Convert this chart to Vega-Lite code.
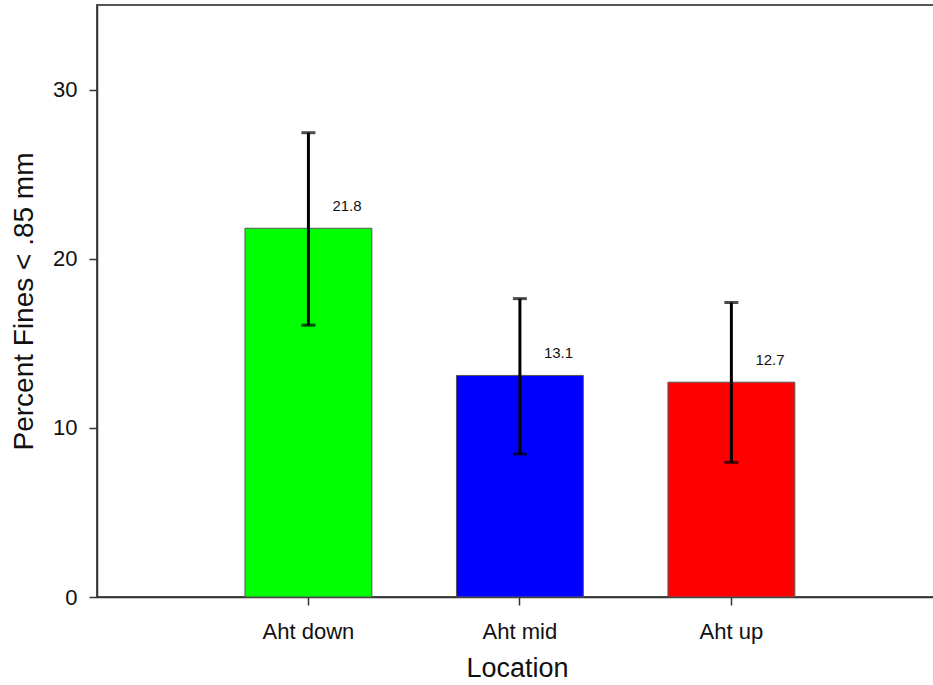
{
  "$schema": "https://vega.github.io/schema/vega-lite/v6.json",
  "width": 840,
  "height": 592,
  "autosize": {"type": "none"},
  "padding": {"left": 97, "top": 5, "right": 0, "bottom": 88},
  "background": "white",
  "config": {
    "font": "Liberation Sans",
    "view": {"stroke": "#555555", "strokeWidth": 2},
    "axis": {
      "domainColor": "#333333",
      "domainWidth": 1.5,
      "tickColor": "#333333",
      "tickWidth": 1.5,
      "tickSize": 8,
      "grid": false,
      "labelFont": "Liberation Sans",
      "labelFontSize": 22,
      "labelColor": "#111111",
      "titleFont": "Liberation Sans",
      "titleFontWeight": "normal",
      "titleColor": "#111111",
      "titleFontSize": 27
    }
  },
  "data": {
    "values": [
      {"location": "Aht down", "fines": 21.8, "low": 16.07, "high": 27.45},
      {"location": "Aht mid", "fines": 13.1, "low": 8.45, "high": 17.64},
      {"location": "Aht up", "fines": 12.7, "low": 7.96, "high": 17.41}
    ]
  },
  "encoding": {
    "x": {
      "field": "location",
      "type": "nominal",
      "sort": null,
      "scale": {"paddingInner": 0.4, "paddingOuter": 0.686, "align": 0.51},
      "axis": {
        "title": "Location",
        "labelAngle": 0,
        "labelPadding": 16,
        "titlePadding": 13
      }
    }
  },
  "layer": [
    {
      "mark": {"type": "bar", "stroke": "#555555", "strokeWidth": 1},
      "encoding": {
        "y": {
          "field": "fines",
          "type": "quantitative",
          "scale": {"domain": [0, 35], "nice": false},
          "axis": {
            "title": "Percent Fines < .85 mm",
            "titleFontSize": 28,
            "values": [0, 10, 20, 30],
            "labelPadding": 12,
            "titlePadding": 14
          }
        },
        "color": {
          "field": "location",
          "type": "nominal",
          "scale": {
            "domain": ["Aht down", "Aht mid", "Aht up"],
            "range": ["#00ff00", "#0000ff", "#ff0000"]
          },
          "legend": null
        }
      }
    },
    {
      "mark": {"type": "rule", "color": "#000000", "strokeWidth": 3},
      "encoding": {
        "y": {"field": "low", "type": "quantitative"},
        "y2": {"field": "high"}
      }
    },
    {
      "mark": {"type": "tick", "color": "#000000", "thickness": 3, "size": 14, "orient": "horizontal"},
      "encoding": {
        "y": {"field": "low", "type": "quantitative"}
      }
    },
    {
      "mark": {"type": "tick", "color": "#000000", "thickness": 3, "size": 14, "orient": "horizontal"},
      "encoding": {
        "y": {"field": "high", "type": "quantitative"}
      }
    },
    {
      "mark": {
        "type": "text",
        "align": "left",
        "baseline": "middle",
        "dx": 24,
        "dy": -22,
        "fontSize": 15,
        "color": "#111111",
        "font": "Liberation Sans"
      },
      "encoding": {
        "y": {"field": "fines", "type": "quantitative"},
        "text": {"field": "fines", "type": "quantitative", "format": ".1f"}
      }
    }
  ]
}
